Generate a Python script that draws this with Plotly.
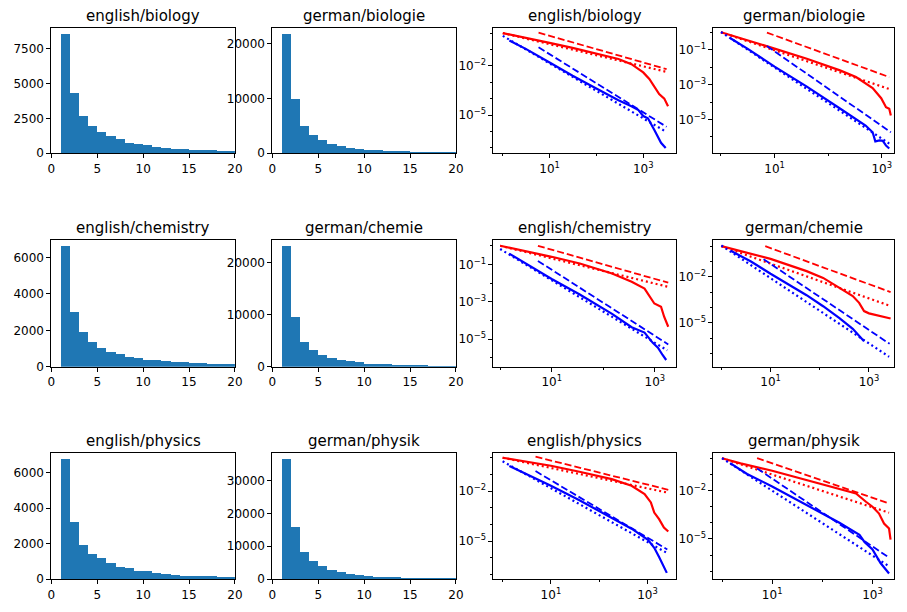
import plotly.graph_objects as go

# ---------------- histogram data (unit bins starting at 1) ----------------
BIN_LEFT = [1, 2, 3, 4, 5, 6, 7, 8, 9, 10, 11, 12, 13, 14, 15, 16, 17, 18, 19]
EN_BIO_COUNTS = [8570, 4310, 2700, 1965, 1540, 1255, 1017, 757, 663, 568, 426, 379, 331, 308, 237, 213, 213, 190, 166]
DE_BIO_COUNTS = [21800, 9820, 5000, 3310, 2350, 1750, 1325, 1025, 845, 660, 540, 480, 420, 360, 300, 240, 240, 180, 150]
EN_CHEM_COUNTS = [6620, 2990, 1880, 1350, 1040, 820, 711, 547, 474, 383, 346, 292, 255, 237, 200, 182, 164, 146, 128]
DE_CHEM_COUNTS = [23120, 9620, 4780, 3250, 2230, 1590, 1270, 1020, 830, 570, 510, 445, 380, 380, 320, 255, 190, 190, 190]
EN_PHYS_COUNTS = [6790, 3197, 1937, 1410, 1184, 902, 695, 658, 470, 470, 357, 301, 244, 207, 207, 169, 169, 132, 132]
DE_PHYS_COUNTS = [36560, 15750, 8380, 5660, 4040, 2930, 2120, 1620, 1310, 1010, 810, 710, 610, 500, 400, 400, 300, 300, 300]

# ---------------- log-log data: empirical CCDF (red) and PDF (blue) ----------------
# *_FIT = power-law fit from optimal xmin (dashed), *_ALT = fit from xmin = 1 (dotted)
EN_BIO_CCDF_X = [1, 2.8, 10, 31, 95, 295, 560, 1000, 1350, 1740, 2190, 2820, 3390]
EN_BIO_CCDF_Y = [1.0, 0.56, 0.25, 0.126, 0.060, 0.026, 0.0126, 0.0040, 0.0016, 5.5e-4, 1.9e-4, 1.0e-4, 3.4e-5]
EN_BIO_PDF_X = [1.38, 3.16, 10, 31, 95, 295, 560, 790, 1000, 1260, 1740, 2400, 3020]
EN_BIO_PDF_Y = [0.355, 0.105, 0.0162, 2.5e-3, 4.5e-4, 7.9e-5, 3.4e-5, 2.0e-5, 8.7e-6, 6.3e-6, 1.17e-6, 2.0e-7, 9.8e-8]
EN_BIO_CCDF_FIT = ([5.8, 3160], [1.07, 6.3e-3])
EN_BIO_CCDF_ALT = ([1, 3160], [1.0, 4.3e-3])
EN_BIO_PDF_FIT = ([5.8, 3160], [0.135, 1.9e-6])
EN_BIO_PDF_ALT = ([1, 3160], [0.676, 9.1e-7])

DE_BIO_CCDF_X = [1, 2.3, 10, 40, 166, 331, 676, 977, 1202, 1380, 1479]
DE_BIO_CCDF_Y = [1.0, 0.47, 0.115, 0.030, 6.5e-3, 2.7e-3, 6.3e-4, 1.66e-4, 5.1e-5, 4.1e-5, 1.7e-5]
DE_BIO_PDF_X = [1.5, 3.16, 10, 40, 166, 331, 500, 676, 759, 912, 1047, 1202, 1380]
DE_BIO_PDF_Y = [0.45, 0.112, 0.0107, 7.6e-4, 4.3e-5, 1.02e-5, 4.5e-6, 1.86e-6, 5.6e-7, 6.3e-7, 6.0e-7, 3.2e-7, 2.2e-7]
DE_BIO_CCDF_FIT = ([7.2, 1380], [0.95, 2.7e-3])
DE_BIO_CCDF_ALT = ([1, 1480], [1.0, 5.2e-4])
DE_BIO_PDF_FIT = ([7.2, 1480], [0.162, 1.86e-6])
DE_BIO_PDF_ALT = ([1, 1380], [1.03, 4.2e-7])

EN_CHEM_CCDF_X = [1, 2.8, 10, 35, 148, 355, 631, 977, 1318, 1514, 1820]
EN_CHEM_CCDF_Y = [1.0, 0.56, 0.257, 0.112, 0.033, 0.0117, 5.1e-3, 8.1e-4, 5.4e-4, 1.58e-4, 4.6e-5]
EN_CHEM_PDF_X = [1.5, 3.16, 10, 35, 148, 355, 631, 912, 1148, 1413, 1660]
EN_CHEM_PDF_Y = [0.38, 0.112, 0.0166, 2.45e-3, 2.24e-4, 4.3e-5, 2.24e-5, 6.3e-6, 3.5e-6, 1.41e-6, 7.6e-7]
EN_CHEM_CCDF_FIT = ([5.4, 1820], [1.0, 0.0105])
EN_CHEM_CCDF_ALT = ([1, 1820], [1.0, 6.3e-3])
EN_CHEM_PDF_FIT = ([5.4, 1820], [0.155, 5.2e-6])
EN_CHEM_PDF_ALT = ([1, 1740], [0.675, 2.5e-6])

DE_CHEM_CCDF_X = [1, 2.45, 10, 54, 117, 251, 468, 631, 794, 1000, 1862, 2754]
DE_CHEM_CCDF_Y = [1.0, 0.47, 0.148, 0.0234, 8.5e-3, 1.9e-3, 5.5e-4, 2.0e-4, 5.8e-5, 4.1e-5, 2.7e-5, 1.9e-5]
DE_CHEM_PDF_X = [1.55, 4.0, 10, 54, 117, 251, 468, 794]
DE_CHEM_PDF_Y = [0.5, 0.1, 0.0158, 6.3e-4, 1.2e-4, 2.0e-5, 4.0e-6, 6.3e-7]
DE_CHEM_CCDF_FIT = ([7.8, 2754], [1.0, 1.0e-3])
DE_CHEM_CCDF_ALT = ([1, 2754], [1.0, 1.23e-4])
DE_CHEM_PDF_FIT = ([7.2, 2630], [0.141, 4.2e-7])
DE_CHEM_PDF_ALT = ([1, 2570], [1.1, 6.0e-8])

EN_PHYS_CCDF_X = [1, 2.8, 10, 39, 182, 468, 871, 1175, 1380, 1738, 2188, 2692]
EN_PHYS_CCDF_Y = [1.0, 0.60, 0.33, 0.145, 0.052, 0.021, 6.6e-3, 2.1e-3, 5.2e-4, 2.1e-4, 6.6e-5, 3.8e-5]
EN_PHYS_PDF_X = [1.38, 3.16, 10, 39, 182, 468, 1023, 1380, 1738, 2188, 2512]
EN_PHYS_PDF_Y = [0.316, 0.105, 0.0209, 2.8e-3, 2.5e-4, 5.6e-5, 1.2e-5, 4.0e-6, 1.12e-6, 3.2e-7, 1.26e-7]
EN_PHYS_CCDF_FIT = ([4.8, 2692], [1.15, 0.012])
EN_PHYS_CCDF_ALT = ([1, 2512], [1.0, 8.3e-3])
EN_PHYS_PDF_FIT = ([4.8, 2570], [0.158, 3.2e-6])
EN_PHYS_PDF_ALT = ([1, 2512], [0.61, 2.0e-6])

DE_PHYS_CCDF_X = [1, 2.34, 10, 48, 219, 468, 741, 1000, 1349, 1698, 2138, 2291]
DE_PHYS_CCDF_Y = [1.0, 0.48, 0.166, 0.044, 0.0135, 6.6e-3, 2.0e-3, 9.8e-4, 3.7e-4, 8.9e-5, 4.4e-5, 9.1e-6]
DE_PHYS_PDF_X = [1.45, 3.16, 10, 48, 219, 550, 692, 1000, 1445, 2138]
DE_PHYS_PDF_Y = [0.5, 0.105, 0.0178, 1.26e-3, 1.0e-4, 1.78e-5, 6.5e-6, 2.24e-6, 3.2e-7, 7.1e-8]
DE_PHYS_CCDF_FIT = ([5.0, 2138], [1.0, 1.58e-3])
DE_PHYS_CCDF_ALT = ([1, 2138], [1.0, 4.2e-4])
DE_PHYS_PDF_FIT = ([5.0, 2138], [0.234, 6.9e-7])
DE_PHYS_PDF_ALT = ([1, 2138], [1.0, 2.0e-7])

TITLES = [["english/biology", "german/biologie"],
          ["english/chemistry", "german/chemie"],
          ["english/physics", "german/physik"]]

# ---------------- layout helpers ----------------
W, H = 907, 606
COLS = [(48, 234), (272, 458), (496, 681), (719, 902)]
ROWS = [(28, 155), (243, 371), (458, 586)]
FONT = "DejaVu Sans"


def xdom(c):
    return [COLS[c][0] / W, COLS[c][1] / W]


def ydom(r):
    return [1 - ROWS[r][1] / H, 1 - ROWS[r][0] / H]


def sup(e):
    s = str(e).replace("-", "\u2212")
    return "10<sup>" + s + "</sup>"


BASE = dict(showline=True, mirror=True, linecolor="black", linewidth=1,
            ticks="outside", ticklen=4, tickwidth=1, tickcolor="black",
            showgrid=False, zeroline=False,
            tickfont=dict(family=FONT, size=12, color="black"))

hist_panels = [
    (0, 0, EN_BIO_COUNTS, 2500), (0, 1, DE_BIO_COUNTS, 10000),
    (1, 0, EN_CHEM_COUNTS, 2000), (1, 1, DE_CHEM_COUNTS, 10000),
    (2, 0, EN_PHYS_COUNTS, 2000), (2, 1, DE_PHYS_COUNTS, 10000),
]

log_panels = [
    (0, 2, EN_BIO_CCDF_X, EN_BIO_CCDF_Y, EN_BIO_PDF_X, EN_BIO_PDF_Y,
     EN_BIO_CCDF_FIT, EN_BIO_CCDF_ALT, EN_BIO_PDF_FIT, EN_BIO_PDF_ALT,
     [-0.2, 3.7], [-7.33, 0.33], [-2, -5]),
    (0, 3, DE_BIO_CCDF_X, DE_BIO_CCDF_Y, DE_BIO_PDF_X, DE_BIO_PDF_Y,
     DE_BIO_CCDF_FIT, DE_BIO_CCDF_ALT, DE_BIO_PDF_FIT, DE_BIO_PDF_ALT,
     [-0.14, 3.23], [-6.93, 0.26], [-1, -3, -5]),
    (1, 2, EN_CHEM_CCDF_X, EN_CHEM_CCDF_Y, EN_CHEM_PDF_X, EN_CHEM_PDF_Y,
     EN_CHEM_CCDF_FIT, EN_CHEM_CCDF_ALT, EN_CHEM_PDF_FIT, EN_CHEM_PDF_ALT,
     [-0.13, 3.41], [-6.48, 0.30], [-1, -3, -5]),
    (1, 3, DE_CHEM_CCDF_X, DE_CHEM_CCDF_Y, DE_CHEM_PDF_X, DE_CHEM_PDF_Y,
     DE_CHEM_CCDF_FIT, DE_CHEM_CCDF_ALT, DE_CHEM_PDF_FIT, DE_CHEM_PDF_ALT,
     [-0.16, 3.51], [-7.87, 0.39], [-2, -5]),
    (2, 2, EN_PHYS_CCDF_X, EN_PHYS_CCDF_Y, EN_PHYS_PDF_X, EN_PHYS_PDF_Y,
     EN_PHYS_CCDF_FIT, EN_PHYS_CCDF_ALT, EN_PHYS_PDF_FIT, EN_PHYS_PDF_ALT,
     [-0.19, 3.59], [-7.28, 0.30], [-2, -5]),
    (2, 3, DE_PHYS_CCDF_X, DE_PHYS_CCDF_Y, DE_PHYS_PDF_X, DE_PHYS_PDF_Y,
     DE_PHYS_CCDF_FIT, DE_PHYS_CCDF_ALT, DE_PHYS_PDF_FIT, DE_PHYS_PDF_ALT,
     [-0.17, 3.43], [-7.5, 0.34], [-2, -5]),
]

fig = go.Figure()
layout = {}
annotations = []


def names(r, c):
    k = r * 4 + c + 1
    s = "" if k == 1 else str(k)
    return "x" + s, "y" + s, "xaxis" + s, "yaxis" + s


def add_title(r, c, text):
    annotations.append(dict(
        text=text, xref="paper", yref="paper",
        x=(xdom(c)[0] + xdom(c)[1]) / 2, y=ydom(r)[1],
        xanchor="center", yanchor="middle", yshift=12, showarrow=False,
        font=dict(family=FONT, size=15, color="black")))


for r, c, counts, dt in hist_panels:
    xa, ya, xk, yk = names(r, c)
    fig.add_trace(go.Bar(x=BIN_LEFT, y=counts, width=1, offset=0,
                         marker=dict(color="#1f77b4", line=dict(width=0)),
                         xaxis=xa, yaxis=ya, showlegend=False))
    layout[xk] = dict(BASE, domain=xdom(c), anchor=ya, range=[0, 20],
                      tickvals=[0, 5, 10, 15, 20])
    layout[yk] = dict(BASE, domain=ydom(r), anchor=xa,
                      range=[0, 1.05 * max(counts)], tick0=0, dtick=dt,
                      tickformat="d")
    add_title(r, c, TITLES[r][c])

RED, BLUE = "#ff0000", "#0000ff"
DASH, DOT = "7px,3px", "2px,3px"

for (r, c, cx, cy, px, py, cfit, calt, pfit, palt, xr, yr, yt) in log_panels:
    xa, ya, xk, yk = names(r, c)
    series = [
        (cx, cy, RED, "solid", 2.2),
        (cfit[0], cfit[1], RED, DASH, 1.8),
        (calt[0], calt[1], RED, DOT, 2.2),
        (px, py, BLUE, "solid", 2.2),
        (pfit[0], pfit[1], BLUE, DASH, 1.8),
        (palt[0], palt[1], BLUE, DOT, 2.2),
    ]
    for sx, sy, col, dash, lw in series:
        fig.add_trace(go.Scatter(x=sx, y=sy, mode="lines",
                                 line=dict(color=col, width=lw, dash=dash),
                                 xaxis=xa, yaxis=ya, showlegend=False,
                                 hoverinfo="skip"))
    ymin_dec = int(yr[0]) - 1
    yminor = [10.0 ** e for e in range(ymin_dec, 1) if e not in yt]
    layout[xk] = dict(BASE, domain=xdom(c), anchor=ya, type="log", range=xr,
                      tickvals=[10, 1000], ticktext=[sup(1), sup(3)],
                      minor=dict(ticks="outside", ticklen=2, tickwidth=1,
                                 tickcolor="black", tickvals=[1, 100]))
    layout[yk] = dict(BASE, domain=ydom(r), anchor=xa, type="log", range=yr,
                      tickvals=[10.0 ** e for e in yt],
                      ticktext=[sup(e) for e in yt],
                      minor=dict(ticks="outside", ticklen=2, tickwidth=1,
                                 tickcolor="black", tickvals=yminor))
    add_title(r, c, TITLES[r][c - 2])

fig.update_layout(**layout)
fig.update_layout(width=W, height=H, autosize=False,
                  margin=dict(l=0, r=0, t=0, b=0),
                  paper_bgcolor="white", plot_bgcolor="white",
                  bargap=0, showlegend=False, annotations=annotations,
                  hovermode=False,
                  font=dict(family=FONT, size=12, color="black"))

fig.write_html("out.html",
               config={"displayModeBar": False, "staticPlot": True},
               post_script="document.body.style.margin='0px';"
                           "document.body.style.overflow='hidden';")
